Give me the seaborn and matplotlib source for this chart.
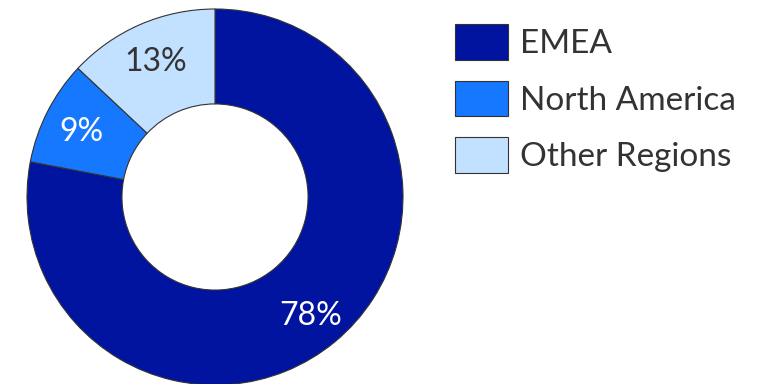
import matplotlib
matplotlib.use("Agg")
import matplotlib.pyplot as plt
import matplotlib.transforms as mtransforms
import seaborn as sns

categories = ["EMEA", "North America", "Other Regions"]
values = [78, 9, 13]
colors = ["#0014A0", "#1677FF", "#C2E0FF"]
label_colors = ["white", "white", "#333333"]

sns.set_theme(style="white")
plt.rcParams['font.family'] = ['Lato', 'DejaVu Sans']

fig = plt.figure(figsize=(7.64, 3.84), dpi=100)
ax = fig.add_axes([27/764, -1/384, 376/764, 376/384])

wedges, texts, autotexts = ax.pie(
    values, colors=sns.color_palette(colors), startangle=90, counterclock=False,
    autopct=lambda p: f"{p:.0f}%", pctdistance=0.8, radius=1,
    wedgeprops=dict(width=0.505, edgecolor="#333333", linewidth=0.8),
    textprops=dict(fontsize=23)
)
shift = mtransforms.ScaledTranslation(0, -3/100, fig.dpi_scale_trans)
for t, c in zip(autotexts, label_colors):
    t.set_color(c)
    t.set_transform(t.get_transform() + shift)
ax.set_xlim(-1.0, 1.0)
ax.set_ylim(-1.0, 1.0)
ax.set_aspect("equal")
ax.axis("off")

leg = fig.legend(wedges, categories, loc="upper left", bbox_to_anchor=(455/764, 1 - 24/384),
                 frameon=False, prop=dict(size=24), handlelength=1.59, handleheight=1.28,
                 labelspacing=0.62, handletextpad=0.36, borderaxespad=0, borderpad=0)
for t in leg.get_texts():
    t.set_color("#333333")

fig.savefig("out.png", dpi=100)
